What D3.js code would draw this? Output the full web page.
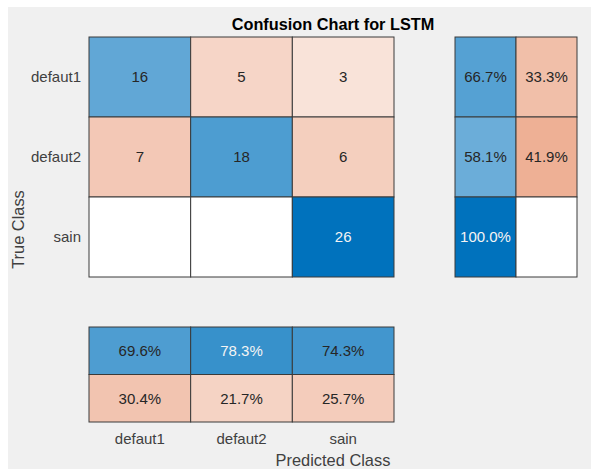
<!DOCTYPE html>
<meta charset="utf-8">
<style>
html, body {
  margin: 0;
  overflow: hidden;
  width: 100%;
  height: 100%;
  background: #fff;
}
svg text {
  font-family: "Liberation Sans", Arial, sans-serif;
}
</style>
<title>Confusion Chart for LSTM</title>
<body>
<script src="https://cdn.jsdelivr.net/npm/d3@7"></script>
<script>
var classes = ["defaut1", "defaut2", "sain"];
// rows = true class, cols = predicted class
var counts = [
  [16, 5, 3],
  [7, 18, 6],
  [0, 0, 26]
];
// row summary: correct %, wrong %
var rowPct = [
  [66.7, 33.3],
  [58.1, 41.9],
  [100.0, 0]
];
// column summary: correct % (top row), wrong % (bottom row)
var colPctCorrect = [69.6, 78.3, 74.3];
var colPctWrong = [30.4, 21.7, 25.7];

var width = 591,
    height = 469;

var blue = "#0072BD",
    orange = "#D95319";

var svg = d3.select("body").append("svg")
    .attr("width", width)
    .attr("height", height);

// grey figure background, with the white strip at top and left
svg.append("rect").attr("width", width).attr("height", height).attr("fill", "#fff");
svg.append("rect").attr("x", 8).attr("y", 7)
    .attr("width", width - 8).attr("height", height - 7)
    .attr("fill", "#f0f0f0");

var x = d3.scaleBand().domain(d3.range(3)).range([89, 394]);
var y = d3.scaleBand().domain(d3.range(3)).range([37, 277]);
var xs = d3.scaleBand().domain(d3.range(2)).range([455, 577]);
var ys = d3.scaleBand().domain(d3.range(2)).range([327, 422]);

var maxCount = d3.max(counts, function(r) { return d3.max(r); });
var diagT = d3.scaleLinear().domain([0, maxCount]).range([0.015, 1]).clamp(true);
var offT = d3.scaleLinear().domain([0, maxCount]).range([0.05, 1.05]).clamp(true);

function shade(c, t) {
  return d3.interpolateRgb("#ffffff", c)(Math.min(1, t));
}

function drawCell(g, x0, y0, w, h, fill, label, t) {
  g.append("rect")
    .attr("x", x0).attr("y", y0)
    .attr("width", w).attr("height", h)
    .attr("fill", fill)
    .attr("stroke", "#3a3a3a")
    .attr("stroke-width", 1);
  if (label !== null) {
    g.append("text")
      .attr("x", x0 + w / 2)
      .attr("y", y0 + h / 2)
      .attr("dy", "0.35em")
      .attr("text-anchor", "middle")
      .attr("font-size", 15)
      .attr("fill", t > 0.76 ? "#f4f4f4" : "#262626")
      .text(label);
  }
}

// main matrix
var gm = svg.append("g");
counts.forEach(function(row, i) {
  row.forEach(function(v, j) {
    var t = v === 0 ? 0 : (i === j ? diagT(v) : offT(v));
    var fill = v === 0 ? "#fff" : shade(i === j ? blue : orange, t);
    drawCell(gm, x(j), y(i), x.bandwidth(), y.bandwidth(), fill, v === 0 ? null : String(v), t);
  });
});

// row summary
var gr = svg.append("g");
rowPct.forEach(function(row, i) {
  row.forEach(function(p, k) {
    var t = p === 0 ? 0 : (k === 0 ? p / 100 : 0.04 + p / 100);
    var fill = p === 0 ? "#fff" : shade(k === 0 ? blue : orange, t);
    drawCell(gr, xs(k), y(i), xs.bandwidth(), y.bandwidth(), fill, p === 0 ? null : p.toFixed(1) + "%", t);
  });
});

// column summary
var gc = svg.append("g");
[colPctCorrect, colPctWrong].forEach(function(row, k) {
  row.forEach(function(p, j) {
    var t = k === 0 ? p / 100 : 0.04 + p / 100;
    var fill = shade(k === 0 ? blue : orange, t);
    drawCell(gc, x(j), ys(k), x.bandwidth(), ys.bandwidth(), fill, p.toFixed(1) + "%", t);
  });
});

// tick labels
svg.append("g").selectAll("text")
  .data(classes)
  .join("text")
    .attr("x", 81)
    .attr("y", function(d, i) { return y(i) + y.bandwidth() / 2; })
    .attr("dy", "0.35em")
    .attr("text-anchor", "end")
    .attr("font-size", 15)
    .attr("fill", "#404040")
    .text(function(d) { return d; });

svg.append("g").selectAll("text")
  .data(classes)
  .join("text")
    .attr("x", function(d, i) { return x(i) + x.bandwidth() / 2; })
    .attr("y", 444)
    .attr("text-anchor", "middle")
    .attr("font-size", 15)
    .attr("fill", "#404040")
    .text(function(d) { return d; });

// axis labels and title
var cx = (89 + 577) / 2;
svg.append("text")
  .attr("x", cx).attr("y", 466)
  .attr("text-anchor", "middle")
  .attr("font-size", 16.4)
  .attr("fill", "#404040")
  .text("Predicted Class");

svg.append("text")
  .attr("transform", "translate(24," + ((37 + 422) / 2) + ") rotate(-90)")
  .attr("text-anchor", "middle")
  .attr("font-size", 16.4)
  .attr("fill", "#404040")
  .text("True Class");

svg.append("text")
  .attr("x", cx).attr("y", 30)
  .attr("text-anchor", "middle")
  .attr("font-size", 16.3)
  .attr("font-weight", "bold")
  .attr("fill", "#000")
  .text("Confusion Chart for LSTM");
</script>
</body>
